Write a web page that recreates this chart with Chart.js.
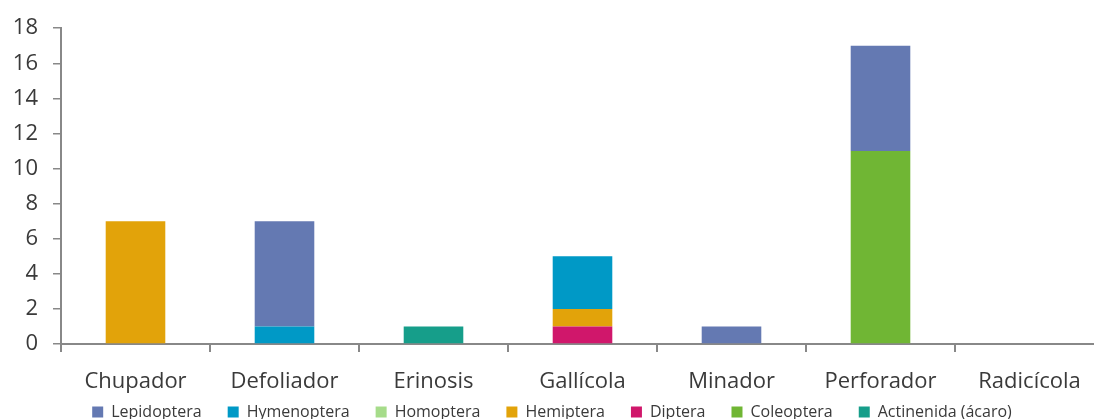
<!DOCTYPE html>
<html>
<head>
<meta charset="utf-8">
<script src="https://cdn.jsdelivr.net/npm/chart.js@4"></script>
<style>
  html, body { margin: 0; padding: 0; overflow: hidden; background: #fff; }
  #wrap { width: 1110px; height: 419px; }
</style>
</head>
<body>
<div id="wrap"><canvas id="chart"></canvas></div>
<script>
const categories = ['Chupador', 'Defoliador', 'Erinosis', 'Gallícola', 'Minador', 'Perforador', 'Radicícola'];

const lepidoptera = [0, 6, 0, 0, 1, 6, 0];
const hymenoptera = [0, 1, 0, 3, 0, 0, 0];
const homoptera   = [0, 0, 0, 0, 0, 0, 0];
const hemiptera   = [7, 0, 0, 1, 0, 0, 0];
const diptera     = [0, 0, 0, 1, 0, 0, 0];
const coleoptera  = [0, 0, 0, 0, 0, 11, 0];
const actinenida  = [0, 0, 1, 0, 0, 0, 0];

const yTicks = [0, 2, 4, 6, 8, 10, 12, 14, 16, 18];

// bottom of the stack first; legend is shown reversed
const series = [
  { label: 'Actinenida (ácaro)', data: actinenida, color: '#169e8a' },
  { label: 'Coleoptera', data: coleoptera, color: '#70b634' },
  { label: 'Diptera', data: diptera, color: '#d0176b' },
  { label: 'Hemiptera', data: hemiptera, color: '#e2a30a' },
  { label: 'Homoptera', data: homoptera, color: '#a6dc8a' },
  { label: 'Hymenoptera', data: hymenoptera, color: '#0099c6' },
  { label: 'Lepidoptera', data: lepidoptera, color: '#6479b2' }
];

const axisColor = '#888888';
const textColor = '#3a3a3a';

// legend padding is large to get the wide gaps between items,
// so give it a small box and move its top up (bottom stays for the clip)
const tightLegend = {
  id: 'tightLegend',
  beforeLayout(chart) {
    const lg = chart.legend;
    if (lg && !lg._tight) {
      const fit = lg.fit;
      lg.fit = function () { fit.call(this); this.height = 23; };
      lg._tight = true;
    }
  },
  afterLayout(chart) {
    const lg = chart.legend;
    if (lg) { lg.top -= 18; }
  }
};

new Chart(document.getElementById('chart'), {
  type: 'bar',
  data: {
    labels: categories,
    datasets: series.map(s => ({
      label: s.label,
      data: s.data,
      backgroundColor: s.color,
      borderWidth: 0,
      barPercentage: 0.4,
      categoryPercentage: 1
    }))
  },
  options: {
    responsive: true,
    maintainAspectRatio: false,
    animation: false,
    layout: { padding: { top: 17, right: 6, left: 0, bottom: 0 } },
    plugins: {
      tooltip: { enabled: false },
      legend: {
        position: 'bottom',
        reverse: true,
        labels: {
          boxWidth: 11,
          boxHeight: 11,
          padding: 26,
          color: textColor,
          font: { family: 'Open Sans', size: 16 }
        }
      }
    },
    scales: {
      x: {
        stacked: true,
        afterFit: s => { s.height = 52; },
        border: { color: axisColor, width: 2 },
        grid: {
          offset: true,
          drawOnChartArea: false,
          drawTicks: true,
          tickLength: 8,
          color: axisColor,
          lineWidth: 2
        },
        ticks: {
          color: textColor,
          padding: 17,
          font: { family: 'Open Sans', size: 22 }
        }
      },
      y: {
        stacked: true,
        min: 0,
        max: 18,
        afterFit: s => { s.width = 61; },
        afterBuildTicks: axis => { axis.ticks = yTicks.map(v => ({ value: v })); },
        border: { color: axisColor, width: 2 },
        grid: {
          drawOnChartArea: false,
          drawTicks: true,
          tickLength: 8,
          color: axisColor,
          lineWidth: 1.5
        },
        ticks: {
          color: textColor,
          padding: 15,
          font: { family: 'Open Sans', size: 22 }
        }
      }
    }
  },
  plugins: [tightLegend]
});
</script>
</body>
</html>
